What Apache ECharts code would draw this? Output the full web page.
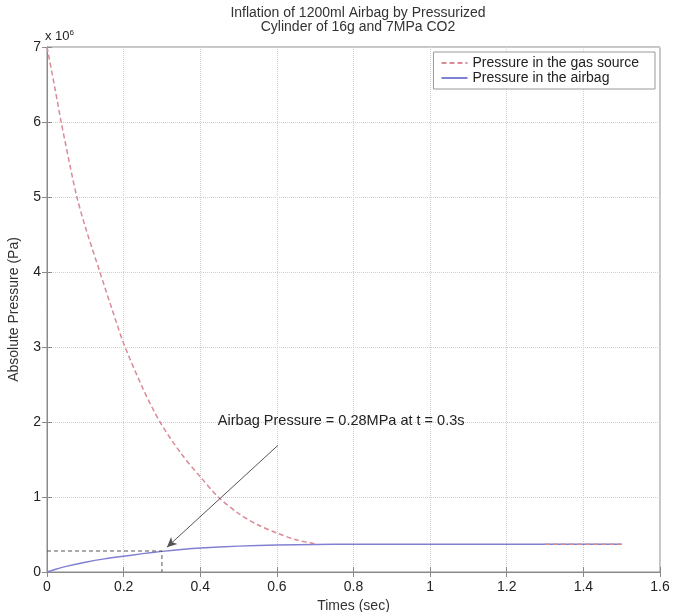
<!DOCTYPE html>
<html>
<head>
<meta charset="utf-8">
<script src="https://cdn.jsdelivr.net/npm/echarts@6/dist/echarts.min.js"></script>
<style>
html,body{margin:0;padding:0;background:#fff;}
#c{width:677px;height:612px;}
</style>
</head>
<body>
<div id="c"></div>
<script>
// Time (s) and pressure (Pa)
var gasTime  = [0, 0.02, 0.037, 0.06, 0.078, 0.1, 0.138, 0.17, 0.2, 0.25, 0.295, 0.35, 0.4, 0.447, 0.5, 0.55, 0.6, 0.65, 0.705, null, 1.3, 1.5];
var gasPress = [7.0e6, 6.47e6, 6.0e6, 5.42e6, 5.0e6, 4.6e6, 4.0e6, 3.5e6, 3.05e6, 2.45e6, 2.0e6, 1.58e6, 1.27e6, 1.0e6, 0.78e6, 0.63e6, 0.52e6, 0.43e6, 0.37e6, null, 0.37e6, 0.37e6];
var bagTime  = [0, 0.025, 0.05, 0.1, 0.15, 0.2, 0.25, 0.3, 0.35, 0.4, 0.5, 0.6, 0.7, 0.8, 1.5];
var bagPress = [0, 0.04e6, 0.075e6, 0.13e6, 0.175e6, 0.21e6, 0.245e6, 0.275e6, 0.3e6, 0.32e6, 0.345e6, 0.36e6, 0.368e6, 0.37e6, 0.37e6];
var refTime  = [0, 0.3, 0.3];
var refPress = [0.28e6, 0.28e6, 0];
var arrowFrom = [0.603, 1.69e6];
var arrowTo   = [0.313, 0.33e6];
var noteAt    = [0.446, 2.01e6];
var noteText  = 'Airbag Pressure = 0.28MPa at t = 0.3s';
var xTicks = [0, 0.2, 0.4, 0.6, 0.8, 1, 1.2, 1.4, 1.6];
var yTicks = [0, 1, 2, 3, 4, 5, 6, 7];
var titleText = 'Inflation of 1200ml Airbag by Pressurized\nCylinder of 16g and 7MPa CO2';
var seriesNames = ['Pressure in the gas source', 'Pressure in the airbag'];

function pairs(xs, ys){ return xs.map(function(x,i){ return (x===null||ys[i]===null) ? [null,null] : [x, ys[i]]; }); }

var FONT = 'Liberation Sans, Arial, Helvetica, sans-serif';
var axisGray = '#8a8a8a';
var chart = echarts.init(document.getElementById('c'));
chart.setOption({
  animation: false,
  backgroundColor: '#fff',
  title: {
    text: titleText, left: 353, top: 1, textAlign: 'center',
    textStyle: { fontFamily: FONT, fontSize: 14, fontWeight: 'normal', color: '#333', lineHeight: 14 }
  },
  legend: {
    orient: 'vertical', right: 22, top: 52, data: seriesNames,
    borderColor: '#999', borderWidth: 1, backgroundColor: '#fff', borderRadius: 0,
    padding: [4, 16, 4, 7], itemGap: 1, itemWidth: 26, itemHeight: 14,
    itemStyle: { opacity: 0 },
    textStyle: { fontFamily: FONT, fontSize: 14, color: '#222' }
  },
  grid: { left: 47, right: 17, top: 47, bottom: 40, show: true, borderColor: axisGray, borderWidth: 1,
    containLabel: false, outerBoundsMode: 'none' },
  xAxis: [{
    type: 'value', min: 0, max: 1.6, interval: 0.2,
    name: 'Times (sec)', nameLocation: 'middle', nameGap: 25,
    nameTextStyle: { fontFamily: FONT, fontSize: 14, color: '#333' },
    axisLine: { lineStyle: { color: axisGray } },
    axisTick: { inside: true, length: 5, lineStyle: { color: axisGray } },
    axisLabel: { margin: 8, fontFamily: FONT, fontSize: 14, color: '#222',
      formatter: function(v){ return String(+v.toFixed(1)); } },
    splitLine: { show: true, lineStyle: { color: '#d0d0d0', type: 'dotted' } }
  }, {
    type: 'value', position: 'top', min: 0, max: 1.6, interval: 0.2,
    axisLine: { show: true, lineStyle: { color: axisGray } },
    axisTick: { inside: true, length: 5, lineStyle: { color: axisGray } },
    axisLabel: { show: false }, splitLine: { show: false }
  }],
  yAxis: [{
    type: 'value', min: 0, max: 7e6, interval: 1e6,
    name: 'Absolute Pressure (Pa)', nameLocation: 'middle', nameGap: 26,
    nameTextStyle: { fontFamily: FONT, fontSize: 14, color: '#333' },
    axisLine: { show: true, lineStyle: { color: axisGray } },
    axisTick: { show: true, inside: true, length: 5, lineStyle: { color: axisGray } },
    axisLabel: { margin: 6, fontFamily: FONT, fontSize: 14, color: '#222',
      formatter: function(v){ return String(Math.round(v/1e6)); } },
    splitLine: { show: true, lineStyle: { color: '#d0d0d0', type: 'dotted' } }
  }, {
    type: 'value', position: 'right', min: 0, max: 7e6, interval: 1e6,
    axisLine: { show: true, lineStyle: { color: axisGray } },
    axisTick: { show: true, inside: true, length: 5, lineStyle: { color: axisGray } },
    axisLabel: { show: false }, splitLine: { show: false }
  }],
  graphic: [{
    type: 'text', left: 45, top: 29,
    style: {
      text: '{a|x 10}{b|6}', fontFamily: FONT,
      rich: { a: { fontSize: 13, fill: '#222', fontFamily: FONT }, b: { fontSize: 8, fill: '#222', verticalAlign: 'top', padding: [0,0,6,0], fontFamily: FONT } }
    }
  }],
  series: [{
    name: seriesNames[1], type: 'line', data: pairs(bagTime, bagPress), showSymbol: false, symbol: 'none',
    smooth: 0.3, lineStyle: { color: '#8080d2', width: 1.5 }, itemStyle: { color: '#8080d2' }, z: 3
  }, {
    name: seriesNames[0], type: 'line', data: pairs(gasTime, gasPress), showSymbol: false, symbol: 'none',
    connectNulls: false, smooth: 0.3,
    lineStyle: { color: '#d98a94', width: 1.5, type: [5, 3] }, itemStyle: { color: '#d98a94' }, z: 4
  }, {
    name: 'ref', type: 'line', data: pairs(refTime, refPress), showSymbol: false, symbol: 'none',
    lineStyle: { color: '#555', width: 1, type: [4, 3] }, z: 5, silent: true,
    markLine: {
      silent: true, symbol: ['none', 'arrow'], symbolSize: [7, 10],
      label: { show: false },
      lineStyle: { color: '#555', width: 1, type: 'solid' },
      data: [[{ coord: arrowFrom }, { coord: arrowTo }]]
    },
    markPoint: {
      silent: true, symbol: 'circle', symbolSize: 0,
      data: [{ coord: noteAt }],
      label: { show: true, position: 'right', distance: 0, formatter: noteText,
        fontFamily: FONT, fontSize: 14.5, color: '#222' }
    }
  }]
});
</script>
</body>
</html>
